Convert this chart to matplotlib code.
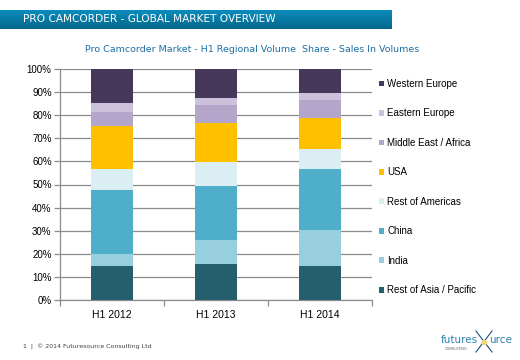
import matplotlib
matplotlib.use("Agg")
import matplotlib.pyplot as plt
import numpy as np
from matplotlib.colors import LinearSegmentedColormap
from matplotlib.lines import Line2D

categories = ["H1 2012", "H1 2013", "H1 2014"]
series_names = ["Rest of Asia / Pacific", "India", "China", "Rest of Americas",
                "USA", "Middle East / Africa", "Eastern Europe", "Western Europe"]
rest_of_asia = [14.9, 15.6, 14.9]
india = [5.0, 10.4, 15.4]
china = [27.7, 23.4, 26.4]
rest_of_americas = [9.1, 10.3, 8.7]
usa = [18.6, 16.9, 13.4]
middle_east = [6.1, 7.8, 7.8]
eastern_europe = [3.9, 3.0, 3.0]
western_europe = [14.7, 12.6, 10.4]
yticks = [0, 10, 20, 30, 40, 50, 60, 70, 80, 90, 100]

series = [rest_of_asia, india, china, rest_of_americas, usa,
          middle_east, eastern_europe, western_europe]
colors = ["#255f6d", "#98cfdf", "#4fafca", "#dbeef4", "#ffc000",
          "#b4a6ca", "#ccc1db", "#46385a"]

fig = plt.figure(figsize=(5.2, 3.6), dpi=100)
fig.patch.set_facecolor("white")

# header banner
bx = fig.add_axes([0, 1 - 29/360, 392/520, 19/360])
grad = np.linspace(0, 1, 50).reshape(-1, 1)
cmap = LinearSegmentedColormap.from_list("b", ["#0a8cbc", "#06678a"])
bx.imshow(grad, aspect="auto", cmap=cmap, extent=[0, 1, 0, 1])
bx.set_axis_off()
fig.text(23/520, 1 - 19.5/360, "PRO CAMCORDER - GLOBAL MARKET OVERVIEW",
         color="white", fontsize=7.6, family="DejaVu Sans", va="center", ha="left")

fig.text(252/520, 1 - 50/360, "Pro Camcorder Market - H1 Regional Volume  Share - Sales In Volumes",
         color="#1d6fa5", fontsize=6.8, family="DejaVu Sans", va="center", ha="center")

ax = fig.add_axes([60/520, 1 - 300/360, 312/520, 231/360])
x = np.arange(len(categories))
bottom = np.zeros(len(categories))
handles = []
for name, vals, c in zip(series_names, series, colors):
    b = ax.bar(x, vals, bottom=bottom, width=0.40, color=c, label=name, zorder=3)
    handles.append(b)
    bottom += np.array(vals)

ax.set_xlim(-0.5, 2.5)
ax.set_ylim(0, 100)
ax.set_yticks(yticks)
ax.set_yticklabels([f"{v}%" for v in yticks], family="Liberation Sans", fontsize=7)
ax.yaxis.grid(True, color="#8c8c8c", linewidth=0.9, zorder=0)
ax.set_xticks(x)
ax.set_xticklabels(categories, family="Liberation Sans", fontsize=7.5)
ax.tick_params(axis="x", length=0, pad=7)
ax.set_xticks([-0.5, 0.5, 1.5, 2.5], minor=True)
ax.tick_params(axis="x", which="minor", length=4, color="#8c8c8c", width=0.9)
ax.tick_params(axis="y", length=4, color="#8c8c8c", width=0.9, pad=2)
for s in ["top", "right"]:
    ax.spines[s].set_visible(False)
ax.spines["left"].set_color("#8c8c8c")
ax.spines["bottom"].set_color("#8c8c8c")
ax.spines["left"].set_linewidth(0.9)
ax.spines["bottom"].set_linewidth(0.9)

leg = fig.legend(handles[::-1], series_names[::-1], loc="upper left",
                 bbox_to_anchor=(379/520, 1 - 79/360), frameon=False,
                 prop={"family": "Liberation Sans", "size": 7},
                 handlelength=0.55, handleheight=0.55, handletextpad=0.3,
                 labelspacing=2.0, borderaxespad=0, borderpad=0)

fig.text(23/520, 1 - 347/360, "1  |  \u00a9 2014 Futuresource Consulting Ltd",
         fontsize=4.5, color="#404040", family="DejaVu Sans", va="center")
fig.text(478/520, 1 - 340/360, "futures", fontsize=7.5, color="#2a7fb4",
         family="DejaVu Sans", va="center", ha="right")
fig.text(489/520, 1 - 340/360, "urce", fontsize=7.5, color="#2a7fb4",
         family="DejaVu Sans", va="center", ha="left")
fig.text(445/520, 1 - 349/360, "CONSULTING", fontsize=2.5, color="#606060",
         family="DejaVu Sans", va="center", ha="left")
for (x0, y0, x1, y1) in [(476, 331, 492, 352), (492, 331, 476, 352)]:
    fig.add_artist(Line2D([x0/520, x1/520], [1 - y0/360, 1 - y1/360],
                          color="#1f4f7a", linewidth=0.8))
fig.add_artist(Line2D([484/520], [1 - 341.5/360], marker="o", markersize=3,
                      color="#f5d76e", linestyle="none"))

fig.savefig("out.png", dpi=100)
